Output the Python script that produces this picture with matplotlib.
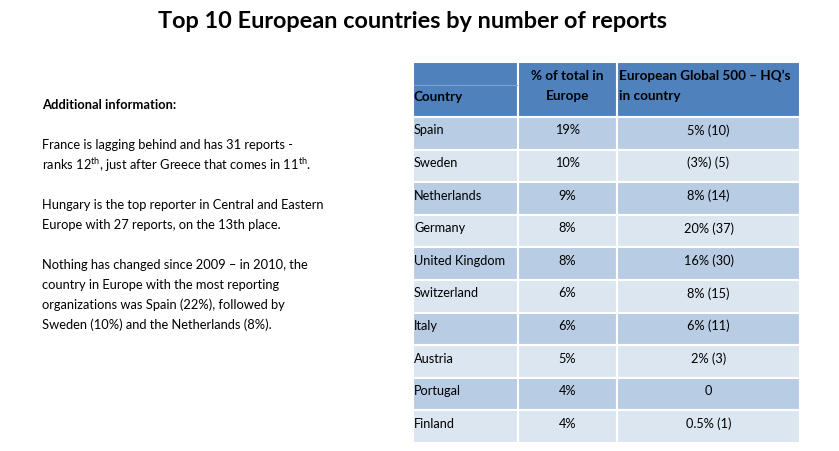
import matplotlib.pyplot as plt
import matplotlib as mpl
from matplotlib.patches import Rectangle

mpl.rcParams["font.family"] = ["Lato", "DejaVu Sans"]

# 표 데이터
countries = ["Spain", "Sweden", "Netherlands", "Germany", "United Kingdom",
             "Switzerland", "Italy", "Austria", "Portugal", "Finland"]
share_europe = ["19%", "10%", "9%", "8%", "8%", "6%", "6%", "5%", "4%", "4%"]
global500 = ["5% (10)", "(3%) (5)", "8% (14)", "20% (37)", "16% (30)",
             "8% (15)", "6% (11)", "2% (3)", "0", "0.5% (1)"]

header_cols = ["Country", "% of total in\nEurope", "European Global 500 \u2013 HQ\u2019s\nin country"]

info_lines = [
    r"France is lagging behind and has 31 reports -",
    r"ranks 12$^{\mathregular{th}}$, just after Greece that comes in 11$^{\mathregular{th}}$.",
    "",
    "Hungary is the top reporter in Central and Eastern",
    "Europe with 27 reports, on the 13th place.",
    "",
    "Nothing has changed since 2009 \u2013 in 2010, the",
    "country in Europe with the most reporting",
    "organizations was Spain (22%), followed by",
    "Sweden (10%) and the Netherlands (8%).",
]

W, H = 839, 452
fig = plt.figure(figsize=(W / 100, H / 100), dpi=100)
ax = fig.add_axes([0, 0, 1, 1])
ax.set_xlim(0, W)
ax.set_ylim(H, 0)
ax.axis("off")

# 제목
ax.text(413, 22, "Top 10 European countries by number of reports",
        ha="center", va="center", fontsize=16.9, fontweight="bold")

# 왼쪽 설명
fs_left = 9.3
ax.text(42, 105, "Additional information:", ha="left", va="center",
        fontsize=fs_left, fontweight="bold")
y = 145
for line in info_lines:
    if line:
        ax.text(42, y, line, ha="left", va="center", fontsize=fs_left)
    y += 19.8 if line else 20.5

# 표 위치
col_x = [413, 518, 617, 800]
top, head_h, row_h = 63, 55, 32.6
header_color = "#4f81bd"
row_colors = ["#b8cce4", "#dce6f1"]
fs_tab = 9.2
fs_head = 9.7

# 헤더
for c in range(3):
    ax.add_patch(Rectangle((col_x[c], top), col_x[c + 1] - col_x[c], head_h,
                           facecolor=header_color, edgecolor="white", linewidth=1.5))
ax.plot([col_x[0] + 1, col_x[1] - 1], [86, 86], color="#7fa3d0", linewidth=0.8)

ax.text(col_x[0] + 1, 97, header_cols[0], ha="left", va="center",
        fontsize=fs_head, fontweight="bold", color="black")
ax.text((col_x[1] + col_x[2]) / 2, 86, header_cols[1], ha="center", va="center",
        fontsize=fs_head, fontweight="bold", linespacing=1.85)
ax.text(col_x[2] + 2, 86, header_cols[2], ha="left", va="center",
        fontsize=fs_head, fontweight="bold", linespacing=1.85)

# 데이터 행
for i, (country, s, g) in enumerate(zip(countries, share_europe, global500)):
    y0 = top + head_h + i * row_h
    for c in range(3):
        ax.add_patch(Rectangle((col_x[c], y0), col_x[c + 1] - col_x[c], row_h,
                               facecolor=row_colors[i % 2], edgecolor="white",
                               linewidth=1.5))
    ty = y0 + 12.5
    ax.text(col_x[0] + 1, ty, country, ha="left", va="center", fontsize=fs_tab)
    ax.text((col_x[1] + col_x[2]) / 2, ty, s, ha="center", va="center", fontsize=fs_tab)
    ax.text((col_x[2] + col_x[3]) / 2, ty, g, ha="center", va="center", fontsize=fs_tab)

fig.savefig("out.png", dpi=100)
